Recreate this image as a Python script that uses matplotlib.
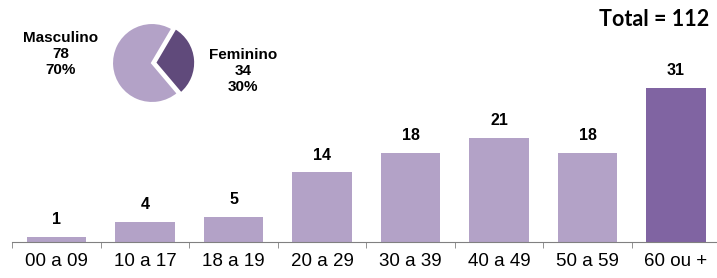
import numpy as np
import matplotlib
matplotlib.use("Agg")
from matplotlib import pyplot as plt

categories = ['00 a 09', '10 a 17', '18 a 19', '20 a 29', '30 a 39', '40 a 49', '50 a 59', '60 ou +']
counts = [1, 4, 5, 14, 18, 21, 18, 31]
pie_labels = ['Masculino', 'Feminino']
pie_counts = [78, 34]
pie_pct = [70, 30]
total = 112

plt.rcParams['font.family'] = ['Liberation Sans', 'DejaVu Sans']

light = '#B3A2C7'
dark_bar = '#8064A2'
dark_pie = '#604A7B'

fig = plt.figure(figsize=(7.17, 2.78), dpi=100)
ax = fig.add_axes([12.25 / 717, 36 / 278, 708 / 717, 1 - 36 / 278])

x = np.arange(len(categories))
colors = [light] * (len(categories) - 1) + [dark_bar]
ax.bar(x, counts, width=0.667, color=colors)
for xi, v in zip(x, counts):
    ax.text(xi, v + 2.6, str(v), ha='center', va='baseline', fontsize=11.5, fontweight='bold')

ax.set_xlim(-0.5, len(categories) - 0.5)
ax.set_ylim(0, 48.7)
for s in ['top', 'right', 'left']:
    ax.spines[s].set_visible(False)
ax.spines['bottom'].set_color('#808080')
ax.set_yticks([])
ax.set_xticks(x)
ax.set_xticklabels(categories, fontsize=13.5)
ax.tick_params(axis='x', length=0, pad=8)
ax.set_xticks(np.arange(len(categories) + 1) - 0.5, minor=True)
ax.tick_params(axis='x', which='minor', length=4, color='#808080', direction='out')

fig.text(709 / 717, 1 - 20 / 278, 'Total = %d' % total, ha='right', va='center',
         fontsize=15.5, fontweight='bold', family=['Lato', 'DejaVu Sans'])

pax = fig.add_axes([102 / 717, 1 - 113 / 278, 100 / 717, 100 / 278])
pax.pie(pie_counts, colors=[light, dark_pie], startangle=59.5, explode=[0, 0.08],
        wedgeprops=dict(edgecolor='white', linewidth=1.5))
pax.set_aspect('equal')

fig.text(61 / 717, 1 - 54 / 278, '%s\n%d\n%d%%' % (pie_labels[0], pie_counts[0], pie_pct[0]),
         ha='center', va='center', fontsize=11, fontweight='bold', linespacing=1.15)
fig.text(243 / 717, 1 - 71 / 278, '%s\n%d\n%d%%' % (pie_labels[1], pie_counts[1], pie_pct[1]),
         ha='center', va='center', fontsize=11, fontweight='bold', linespacing=1.15)

fig.savefig('out.png', dpi=100)
